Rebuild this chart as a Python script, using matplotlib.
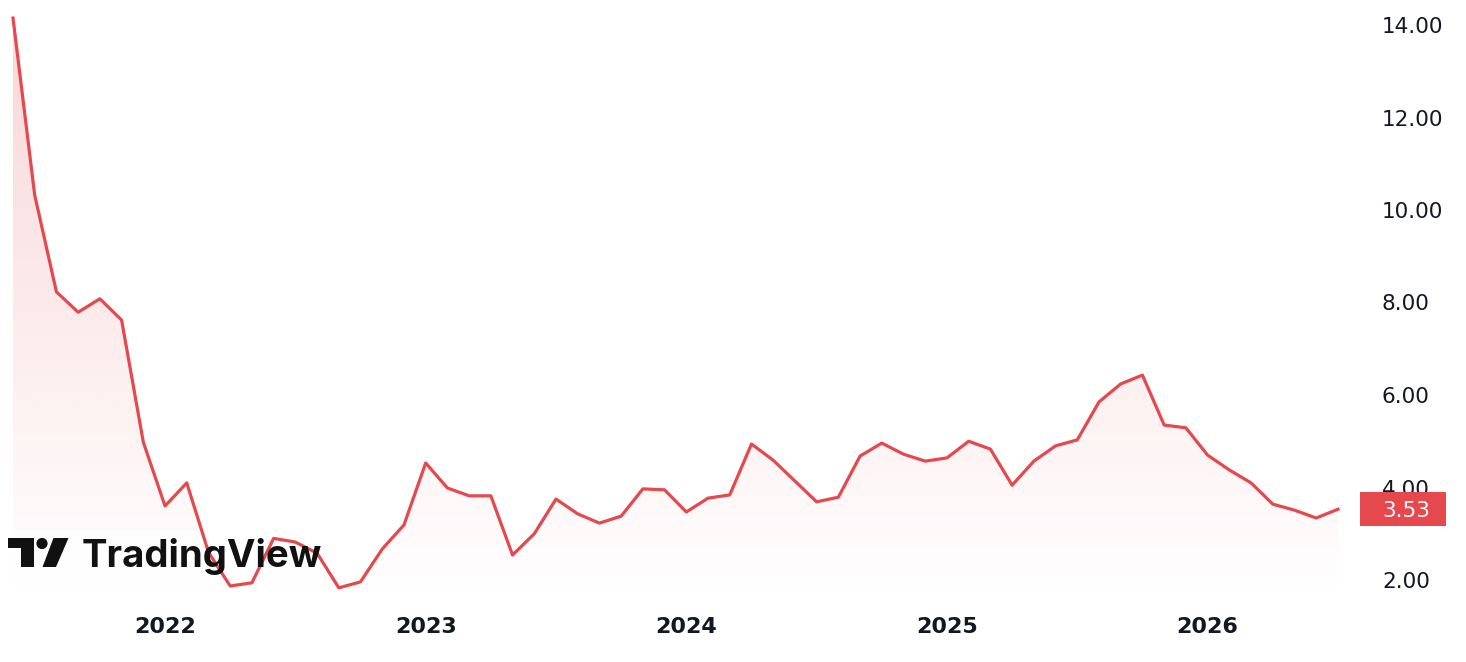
import numpy as np
import pandas as pd
import matplotlib
matplotlib.use("Agg")
import matplotlib.pyplot as plt
import matplotlib.transforms as mtransforms
from matplotlib.colors import to_rgb
from matplotlib.patches import Polygon, Circle, Rectangle, PathPatch

W, H = 1466, 662
LINE_COLOR = "#E5484D"
TEXT_COLOR = "#131722"

# ── data (monthly closes) ─────────────────────────────────────────────────────
months = pd.date_range("2021-06-01", periods=62, freq="MS")
values = [
    14.15, 10.32, 8.23, 7.79, 8.08, 7.62, 4.98,
    3.60, 4.10, 2.60, 1.87, 1.94, 2.90, 2.82, 2.58, 1.83, 1.96, 2.67, 3.19,
    4.53, 3.99, 3.82, 3.82, 2.54, 3.00, 3.75, 3.43, 3.23, 3.38, 3.97, 3.95,
    3.47, 3.77, 3.84, 4.94, 4.59, 4.14, 3.69, 3.79, 4.68, 4.96, 4.72, 4.57,
    4.64, 5.00, 4.83, 4.05, 4.57, 4.90, 5.03, 5.85, 6.24, 6.43, 5.35, 5.29,
    4.70, 4.38, 4.10, 3.64, 3.51, 3.34, 3.53,
]
y_ticks = [2, 4, 6, 8, 10, 12, 14]
last_price = values[-1]

x = np.arange(len(values))
year_idx = [i for i, m in enumerate(months) if m.month == 1]
year_lbl = [str(months[i].year) for i in year_idx]

# ── figure / axes ─────────────────────────────────────────────────────────────
fig = plt.figure(figsize=(W / 100, H / 100), dpi=100)
ax = fig.add_axes([0, 1 - 600 / H, 1360 / W, 600 / H])
step = 21.72
ax.set_xlim(-13 / step, (1360 - 13) / step)
y_low = 2 - 20 / 46.25
ax.set_ylim(y_low, 2 + 580 / 46.25)

for s in ax.spines.values():
    s.set_visible(False)

# gradient fill under the line
grad = np.zeros((256, 1, 4))
grad[..., :3] = to_rgb(LINE_COLOR)
grad[..., 3] = np.linspace(0.22, 0.0, 256)[:, None]
im = ax.imshow(grad, extent=[x[0], x[-1], y_low, max(values)], aspect="auto",
               origin="upper", zorder=1, interpolation="bilinear")
poly = ax.fill_between(x, values, y_low, color="none", linewidth=0)
clip = PathPatch(poly.get_paths()[0], transform=ax.transData, facecolor="none", edgecolor="none")
ax.add_patch(clip)
im.set_clip_path(clip)

ax.plot(x, values, color=LINE_COLOR, linewidth=2.3, solid_joinstyle="round", zorder=3)

# ticks
ax.yaxis.tick_right()
ax.set_yticks(y_ticks)
ax.set_yticklabels([f"{v:.2f}" for v in y_ticks])
ax.tick_params(axis="y", length=0, pad=15.8, labelsize=15.5, labelcolor=TEXT_COLOR)
ax.set_xticks(year_idx)
ax.set_xticklabels(year_lbl, fontweight="bold")
ax.tick_params(axis="x", length=0, pad=12, labelsize=16, labelcolor=TEXT_COLOR)
ax.set_ylim(y_low, 2 + 580 / 46.25)

# last price tag
blend = mtransforms.blended_transform_factory(fig.transFigure, ax.transData)
tag = Rectangle((1360 / W, last_price - 17 / 46.25), 86 / W, 34 / 46.25,
                transform=blend, facecolor=LINE_COLOR, edgecolor="none",
                clip_on=False, zorder=10)
ax.add_artist(tag)
ax.text(1382 / W, last_price, f"{last_price:.2f}", transform=blend, color="white",
        fontsize=15.5, ha="left", va="center_baseline", clip_on=False, zorder=11)

# ── TradingView watermark ─────────────────────────────────────────────────────
pix = mtransforms.Affine2D().scale(1 / W, -1 / H).translate(0, 1) + fig.transFigure
ax.add_artist(Rectangle((0, 530), 334, 58, transform=pix, facecolor="white",
                        edgecolor="none", alpha=0.8, zorder=2))
logo_c = "#111111"
fig.add_artist(Polygon([(8, 538), (33.5, 538), (33.5, 567), (20.5, 567), (20.5, 548), (8, 548)],
                       closed=True, transform=pix, facecolor=logo_c, edgecolor="none"))
fig.add_artist(Circle((42, 543.5), 5.6, transform=pix, facecolor=logo_c, edgecolor="none"))
fig.add_artist(Polygon([(53.5, 538), (68.5, 538), (56, 567), (42.5, 567)],
                       closed=True, transform=pix, facecolor=logo_c, edgecolor="none"))
fig.text(82, 567, "TradingView", transform=pix, fontsize=27.6, fontweight="bold",
         family=["Inter", "DejaVu Sans"], color=logo_c, ha="left", va="baseline")

fig.savefig("out.png", dpi=100, facecolor="white")
